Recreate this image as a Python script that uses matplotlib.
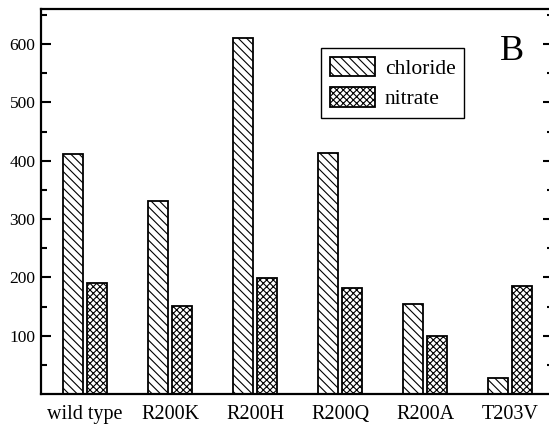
import matplotlib
matplotlib.use("Agg")
import matplotlib.pyplot as plt
import numpy as np

# anion permeability per construct
mutants = ["wild type", "R200K", "R200H", "R200Q", "R200A", "T203V"]
chloride = [412, 331, 611, 414, 154, 28]
nitrate = [191, 151, 199, 181, 100, 185]

plt.rcParams["font.family"] = ["Liberation Serif", "DejaVu Serif"]
plt.rcParams["hatch.linewidth"] = 0.8

fig = plt.figure(figsize=(5.49, 4.30), dpi=100)
ax = fig.add_axes([0.0747, 0.0837, 0.932, 0.895])

x = np.arange(len(mutants))
w = 0.235
ax.bar(x - 0.14, chloride, w, facecolor="white", edgecolor="black",
       linewidth=1.3, hatch="\\\\\\\\", label="chloride")
ax.bar(x + 0.135, nitrate, w, facecolor="white", edgecolor="black",
       linewidth=1.3, hatch="xxxxx", label="nitrate")

ax.set_xlim(-0.52, 5.5)
ax.set_ylim(0, 660)
ax.set_xticks(x)
ax.set_xticklabels(mutants, fontsize=14.5)
ax.set_yticks([100, 200, 300, 400, 500, 600])
ax.set_yticks(np.arange(50, 660, 100), minor=True)
ax.tick_params(axis="x", length=0, pad=8)
ax.tick_params(axis="y", which="both", direction="in", right=True,
               labelsize=12.5, width=1.5, pad=4)
ax.tick_params(axis="y", which="major", length=7)
ax.tick_params(axis="y", which="minor", length=4)
for s in ax.spines.values():
    s.set_linewidth(1.6)

leg = ax.legend(loc="upper left", bbox_to_anchor=(0.585, 0.888),
                bbox_transform=fig.transFigure, fontsize=15.5,
                fancybox=False, framealpha=1, edgecolor="black",
                handlelength=2.1, handleheight=1.0, borderpad=0.4,
                labelspacing=0.4, handletextpad=0.45, borderaxespad=0)
leg.get_frame().set_linewidth(1.0)

fig.text(0.932, 0.880, "B", fontsize=26, ha="center", va="center")

fig.savefig("out.png", dpi=100)
